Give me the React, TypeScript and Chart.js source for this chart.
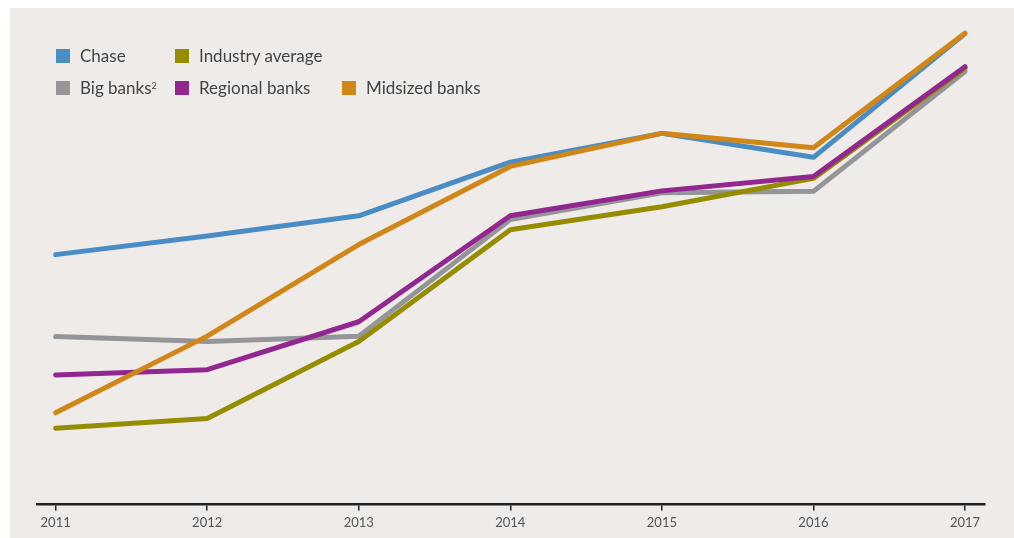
import React, { useEffect, useRef } from "react";
import Chart from "chart.js/auto";

const YEARS = [2011, 2012, 2013, 2014, 2015, 2016, 2017];

const CHASE = [52.1, 56.0, 60.2, 71.4, 77.4, 72.4, 98.2];
const BIG_BANKS = [35.0, 34.0, 35.1, 59.4, 65.0, 65.3, 90.3];
const INDUSTRY_AVERAGE = [15.9, 17.9, 34.0, 57.3, 62.1, 68.0, 91.0];
const REGIONAL_BANKS = [27.0, 28.1, 38.1, 60.2, 65.4, 68.4, 91.3];
const MIDSIZED_BANKS = [19.1, 35.1, 54.2, 70.5, 77.4, 74.4, 98.3];

const SERIES = [
  { label: "Chase", data: CHASE, color: "#4a8dc5", order: 4 },
  { label: "Big banks", data: BIG_BANKS, color: "#939598", order: 3 },
  { label: "Industry average", data: INDUSTRY_AVERAGE, color: "#958c00", order: 2 },
  { label: "Regional banks", data: REGIONAL_BANKS, color: "#92278f", order: 1 },
  { label: "Midsized banks", data: MIDSIZED_BANKS, color: "#d08718", order: 0 },
];

const LEGEND_FONT = "Lato, 'Open Sans', sans-serif";

function LegendItem({ color, children, left, top }: any) {
  return (
    <div style={{ position: "absolute", left, top, display: "flex", alignItems: "center", whiteSpace: "nowrap" }}>
      <span style={{ display: "inline-block", width: 14, height: 14, background: color, marginRight: 10 }} />
      <span style={{ fontFamily: LEGEND_FONT, fontSize: 17, color: "#444", lineHeight: "14px" }}>{children}</span>
    </div>
  );
}

export default function App() {
  const ref = useRef<HTMLCanvasElement | null>(null);

  useEffect(() => {
    if (!ref.current) return;
    const chart = new Chart(ref.current, {
      type: "line",
      data: {
        datasets: SERIES.map((s) => ({
          label: s.label,
          data: YEARS.map((y, i) => ({ x: y, y: s.data[i] })),
          borderColor: s.color,
          backgroundColor: s.color,
          borderWidth: 5,
          pointRadius: 0,
          tension: 0,
          borderCapStyle: "round",
          borderJoinStyle: "round",
          fill: false,
          order: s.order,
        })),
      },
      options: {
        animation: false,
        responsive: false,
        maintainAspectRatio: false,
        layout: { padding: { left: 37, right: 29, top: 25, bottom: 2 } },
        plugins: { legend: { display: false }, tooltip: { enabled: false } },
        scales: {
          x: {
            type: "linear",
            min: 2010.877,
            max: 2017.132,
            afterBuildTicks: (scale: any) => {
              scale.ticks = YEARS.map((v) => ({ value: v }));
            },
            ticks: {
              callback: (v: any) => String(v),
              color: "#555",
              font: { family: LEGEND_FONT, size: 13 },
              padding: 5,
              maxRotation: 0,
              autoSkip: false,
            },
            grid: {
              display: true,
              drawOnChartArea: false,
              drawTicks: true,
              tickLength: 6,
              color: "#222",
              lineWidth: 1.5,
            },
            border: { display: true, color: "#222", width: 2.5 },
          },
          y: { display: false, min: 0, max: 100 },
        },
      },
    });
    return () => chart.destroy();
  }, []);

  return (
    <div style={{ position: "fixed", left: 0, top: 0, width: 1014, height: 538, background: "#fff", overflow: "hidden" }}>
      <div style={{ position: "absolute", left: 10, top: 8, right: 0, bottom: 0, background: "#efebe8" }} />
      <canvas ref={ref} width={1014} height={538} style={{ position: "absolute", left: 0, top: 0, width: 1014, height: 538 }} />
      <LegendItem color="#4a8dc5" left={56} top={49}>Chase</LegendItem>
      <LegendItem color="#958c00" left={175} top={49}>Industry average</LegendItem>
      <LegendItem color="#939598" left={56} top={81}>Big banks<sup style={{ fontSize: 9, verticalAlign: "top", lineHeight: "9px" }}>2</sup></LegendItem>
      <LegendItem color="#92278f" left={175} top={81}>Regional banks</LegendItem>
      <LegendItem color="#d08718" left={342} top={81}>Midsized banks</LegendItem>
    </div>
  );
}
